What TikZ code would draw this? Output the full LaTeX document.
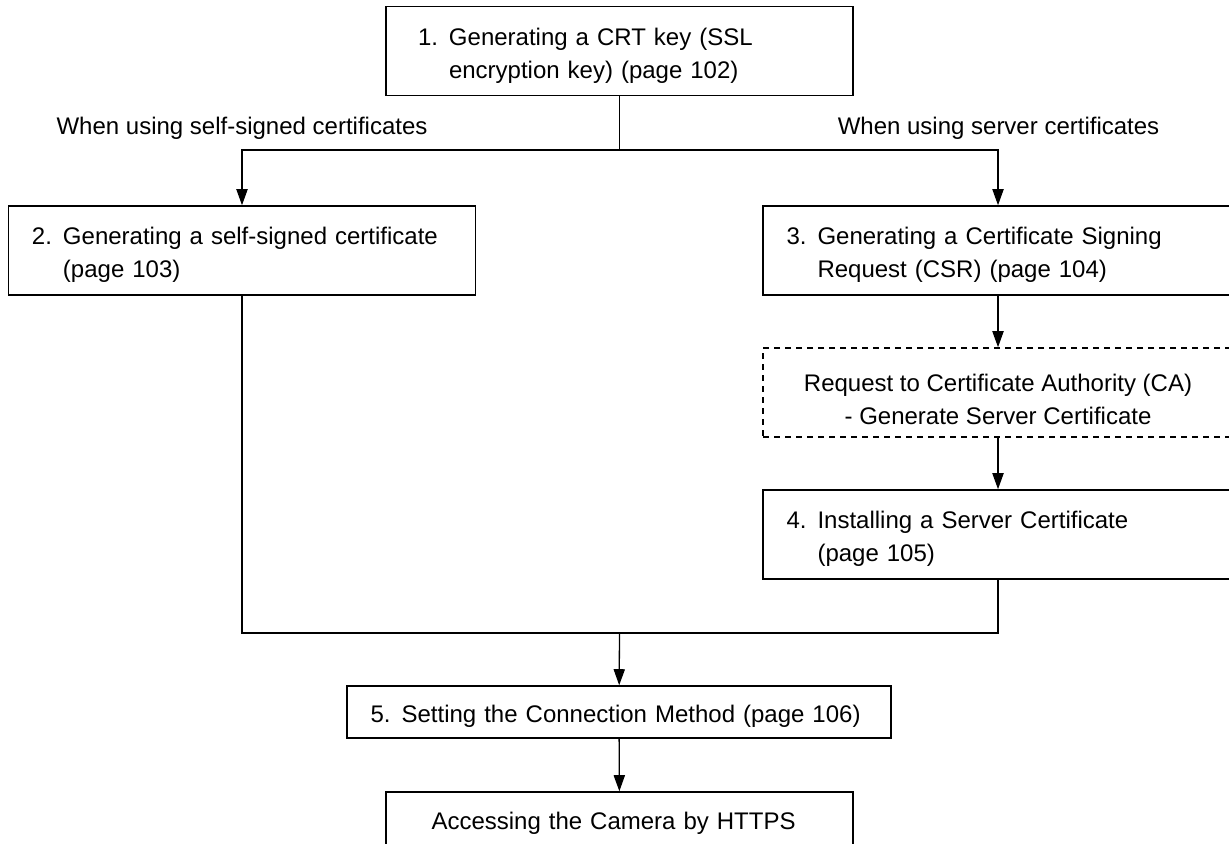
\documentclass[tikz,border=0pt]{standalone}
\usepackage{fontspec}
\setmainfont{Liberation Sans}
\usetikzlibrary{arrows.meta}
\newcommand{\numtext}[3]{\begin{tabular}{@{}p{15.5pt}@{}l@{}}\rule{0pt}{15.5pt}#1&#2\\&#3\end{tabular}}

\begin{document}
\begin{tikzpicture}[
    x=0.5pt, y=-0.5pt,
    font=\fontsize{12pt}{16.5pt}\selectfont,
    box/.style={draw, line width=0.8pt, inner ysep=0pt, minimum height=44.5pt, align=left},
    oneline/.style={minimum height=26pt, text height=10pt, text depth=0pt},
    link/.style={line width=0.65pt},
    arr/.style={link, -{Triangle[length=8pt,width=5.6pt]}}
  ]
  \useasboundingbox (0,0) rectangle (1229,843);
  \clip (0,0) rectangle (1229,843);

  \node[box, text width=201.5pt, inner xsep=16pt] (key) at (619.5,51)
    {\numtext{1.}{Generating a CRT key (SSL}{encryption key) (page 102)}};
  \node[box, text width=210pt, inner xsep=11.75pt] (self) at (242,250.5)
    {\numtext{2.}{Generating a self-signed certificate}{(page 103)}};
  \node[box, text width=211.5pt, inner xsep=11.75pt] (csr) at (998,250.5)
    {\numtext{3.}{Generating a Certificate Signing}{Request (CSR) (page 104)}};
  \node[box, dashed, dash pattern=on 3pt off 2.5pt, align=center, minimum width=235pt] (ca) at (998,392.5)
    {\rule{0pt}{15.5pt}Request to Certificate Authority (CA)\\- Generate Server Certificate};
  \node[box, text width=211.5pt, inner xsep=11.75pt] (inst) at (998,534.5)
    {\numtext{4.}{Installing a Server Certificate}{(page 105)}};
  \node[box, oneline, text width=248.4pt, inner xsep=11.8pt] (conn) at (619,712)
    {\makebox[15.5pt][l]{5.}Setting the Connection Method (page 106)};
  \node[box, oneline, minimum height=27pt, text width=188pt, inner xsep=22.75pt] (https) at (619.5,819)
    {Accessing the Camera by HTTPS};

  \node[anchor=base] (selfnote) at (242,134) {When using self-signed certificates};
  \node[anchor=base] (servnote) at (998.5,134) {When using server certificates};

  \coordinate (fork) at (619.5,150);
  \coordinate (join) at (619.5,633);

  \draw[link] (key) -- (fork);
  \draw[arr] (fork) -| (self.north);
  \draw[arr] (fork) -| (csr.north);
  \draw[arr] (csr) -- (ca);
  \draw[arr] (ca) -- (inst);
  \draw[link] (self) |- (join);
  \draw[link] (inst) |- (join);
  \draw[arr] (join) -- (conn);
  \draw[arr] (conn) -- (https);
\end{tikzpicture}
\end{document}
